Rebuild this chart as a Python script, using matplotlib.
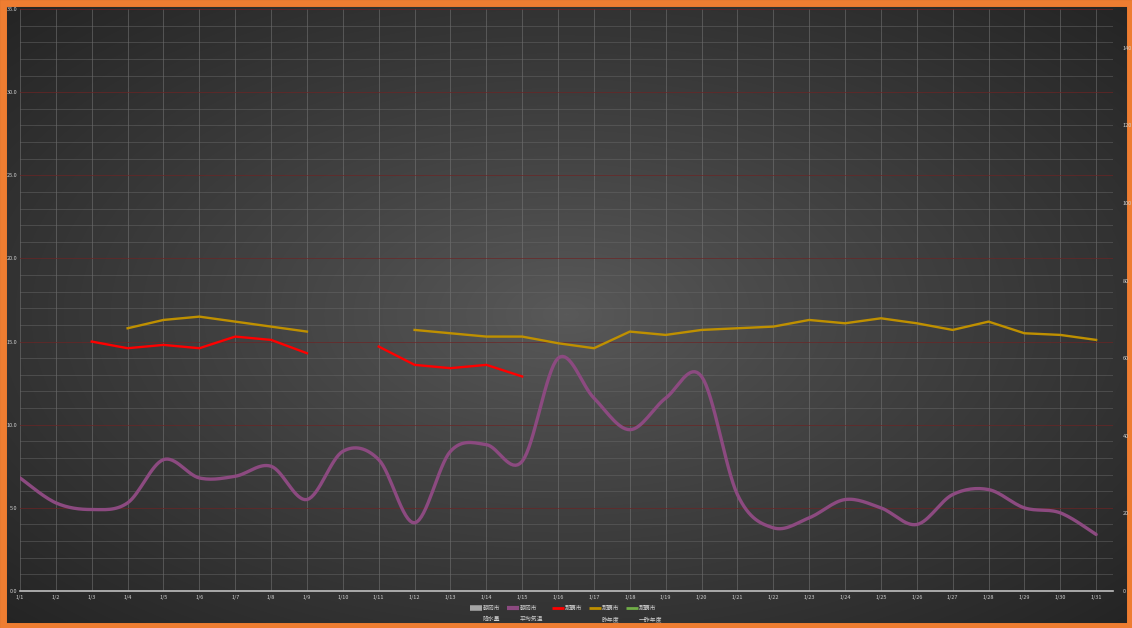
import numpy as np
import matplotlib
matplotlib.use("Agg")
import matplotlib.pyplot as plt
from matplotlib.patches import Rectangle

plt.rcParams['font.family'] = ['Noto Sans CJK JP', 'DejaVu Sans']

# Data (January, daily)
days = [f"1/{d}" for d in range(1, 32)]
shizuoka_rain = [None] * 31
shizuoka_temp = [6.8, 5.3, 4.9, 5.3, 7.9, 6.8, 6.9, 7.5, 5.5, 8.4, 7.9, 4.1, 8.4, 8.8, 7.8,
                 14.0, 11.6, 9.7, 11.6, 12.9, 5.8, 3.8, 4.4, 5.5, 5.0, 4.0, 5.8, 6.1, 5.0, 4.7, 3.4]
naha_temp = [None, None, 15.0, 14.6, 14.8, 14.6, 15.3, 15.1, 14.3, None, 14.7, 13.6, 13.4, 13.6, 12.9,
             None, None, None, None, None, None, None, None, None, None, None, None, None, None, None, None]
naha_last = [None, None, None, 15.8, 16.3, 16.5, 16.2, 15.9, 15.6, None, None, 15.7, 15.5, 15.3, 15.3,
             14.9, 14.6, 15.6, 15.4, 15.7, 15.8, 15.9, 16.3, 16.1, 16.4, 16.1, 15.7, 16.2, 15.5, 15.4, 15.1]
naha_prev = [None] * 31

labels = ["静岡市\n降水量", "静岡市\n平均気温", "那覇市\n", "那覇市\n昨年度", "那覇市\n一昨年度"]
colors = ["#a6a6a6", "#8c4a80", "#ff0000", "#bf9000", "#70ad47"]


def smooth(x, y, n=16):
    # catmull-rom rendering for a smoothed line
    x = np.asarray(x, float)
    y = np.asarray(y, float)
    px = np.concatenate([[x[0]], x, [x[-1]]])
    py = np.concatenate([[y[0]], y, [y[-1]]])
    ox, oy = [], []
    t = np.linspace(0, 1, n, endpoint=False)
    for i in range(1, len(px) - 2):
        for p, o in ((px, ox), (py, oy)):
            p0, p1, p2, p3 = p[i - 1], p[i], p[i + 1], p[i + 2]
            o.extend(0.5 * (2 * p1 + (-p0 + p2) * t + (2 * p0 - 5 * p1 + 4 * p2 - p3) * t ** 2
                            + (-p0 + 3 * p1 - 3 * p2 + p3) * t ** 3))
    ox.append(x[-1])
    oy.append(y[-1])
    return ox, oy


def to_arr(v):
    return np.array([np.nan if a is None else a for a in v], float)


W, H = 1132, 628
fig = plt.figure(figsize=(W / 100, H / 100), dpi=100)

# background: radial gradient + orange frame
bg = fig.add_axes([0, 0, 1, 1])
bg.set_axis_off()
yy, xx = np.mgrid[0:H, 0:W]
r = np.sqrt(((xx - W / 2) / (W / 2)) ** 2 + ((yy - H / 2) / (H / 2)) ** 2) / np.sqrt(2)
shade = 0.35 - 0.21 * np.clip(r, 0, 1) ** 0.9
bg.imshow(np.dstack([shade] * 3), extent=[0, W, 0, H], aspect='auto')
bg.set_xlim(0, W)
bg.set_ylim(0, H)
bg.add_patch(Rectangle((2.5, 2.5), W - 5, H - 5, fill=False, edgecolor="#ee7d31", linewidth=5))

ax = fig.add_axes([20 / W, 37 / H, (1113 - 20) / W, (591 - 9) / H])
ax.patch.set_alpha(0)
ax2 = ax.twinx()

x = np.arange(31)

# precipitation bars (right axis)
ax2.bar(x, np.nan_to_num(to_arr(shizuoka_rain)), width=0.6, color=colors[0])

sx, sy = smooth(x, shizuoka_temp)
ax.plot(sx, sy, color=colors[1], linewidth=2.4, solid_capstyle='round')
ax.plot(x, to_arr(naha_temp), color=colors[2], linewidth=1.7)
ax.plot(x, to_arr(naha_last), color=colors[3], linewidth=1.7)
ax.plot(x, to_arr(naha_prev), color=colors[4], linewidth=1.7)

ax.set_xlim(0, 30.47)
ax.set_ylim(0, 35)
ax2.set_ylim(0, 150)
ax.set_yticks(np.arange(0, 36, 5))
ax.set_yticklabels([f"{v:.1f}" for v in np.arange(0, 36, 5)])
ax.set_yticks(np.arange(0, 36, 1), minor=True)
ax2.set_yticks(np.arange(0, 141, 20))
ax.set_xticks(x)
ax.set_xticklabels(days)

ax.grid(True, which='minor', axis='y', color='#6a6a6a', linewidth=0.6, alpha=0.55)
ax.grid(True, which='major', axis='y', color='#6e2424', linewidth=0.6, alpha=0.8)
ax.grid(True, which='major', axis='x', color='#7a7a7a', linewidth=0.6, alpha=0.6)
ax.set_axisbelow(True)

for a in (ax, ax2):
    for s in a.spines.values():
        s.set_visible(False)
    a.tick_params(length=0, labelsize=4, colors='#d0d0d0', pad=3)
    a.tick_params(which='minor', length=0)
ax.spines['bottom'].set_visible(True)
ax.spines['bottom'].set_color('#bfbfbf')
ax.spines['bottom'].set_linewidth(1.2)
ax.tick_params(axis='y', pad=2)
ax2.tick_params(axis='y', pad=7)

# legend below the plot, handle beside the first line of each label
leg_x = [470, 507, 552, 589, 626]
widths = [4, 3, 2, 2, 2]
for lx, lab, c, lw in zip(leg_x, labels, colors, widths):
    top, bottom = lab.split("\n")
    bg.plot([lx, lx + 12], [H - 608, H - 608], color=c, linewidth=lw, solid_capstyle='butt')
    bg.text(lx + 13, H - 608, top, fontsize=4.2, color='#d0d0d0', va='center', ha='left')
    if bottom:
        bg.text(lx + 13, H - 619, bottom, fontsize=4.2, color='#d0d0d0', va='center', ha='left')

fig.savefig("out.png", dpi=100)
